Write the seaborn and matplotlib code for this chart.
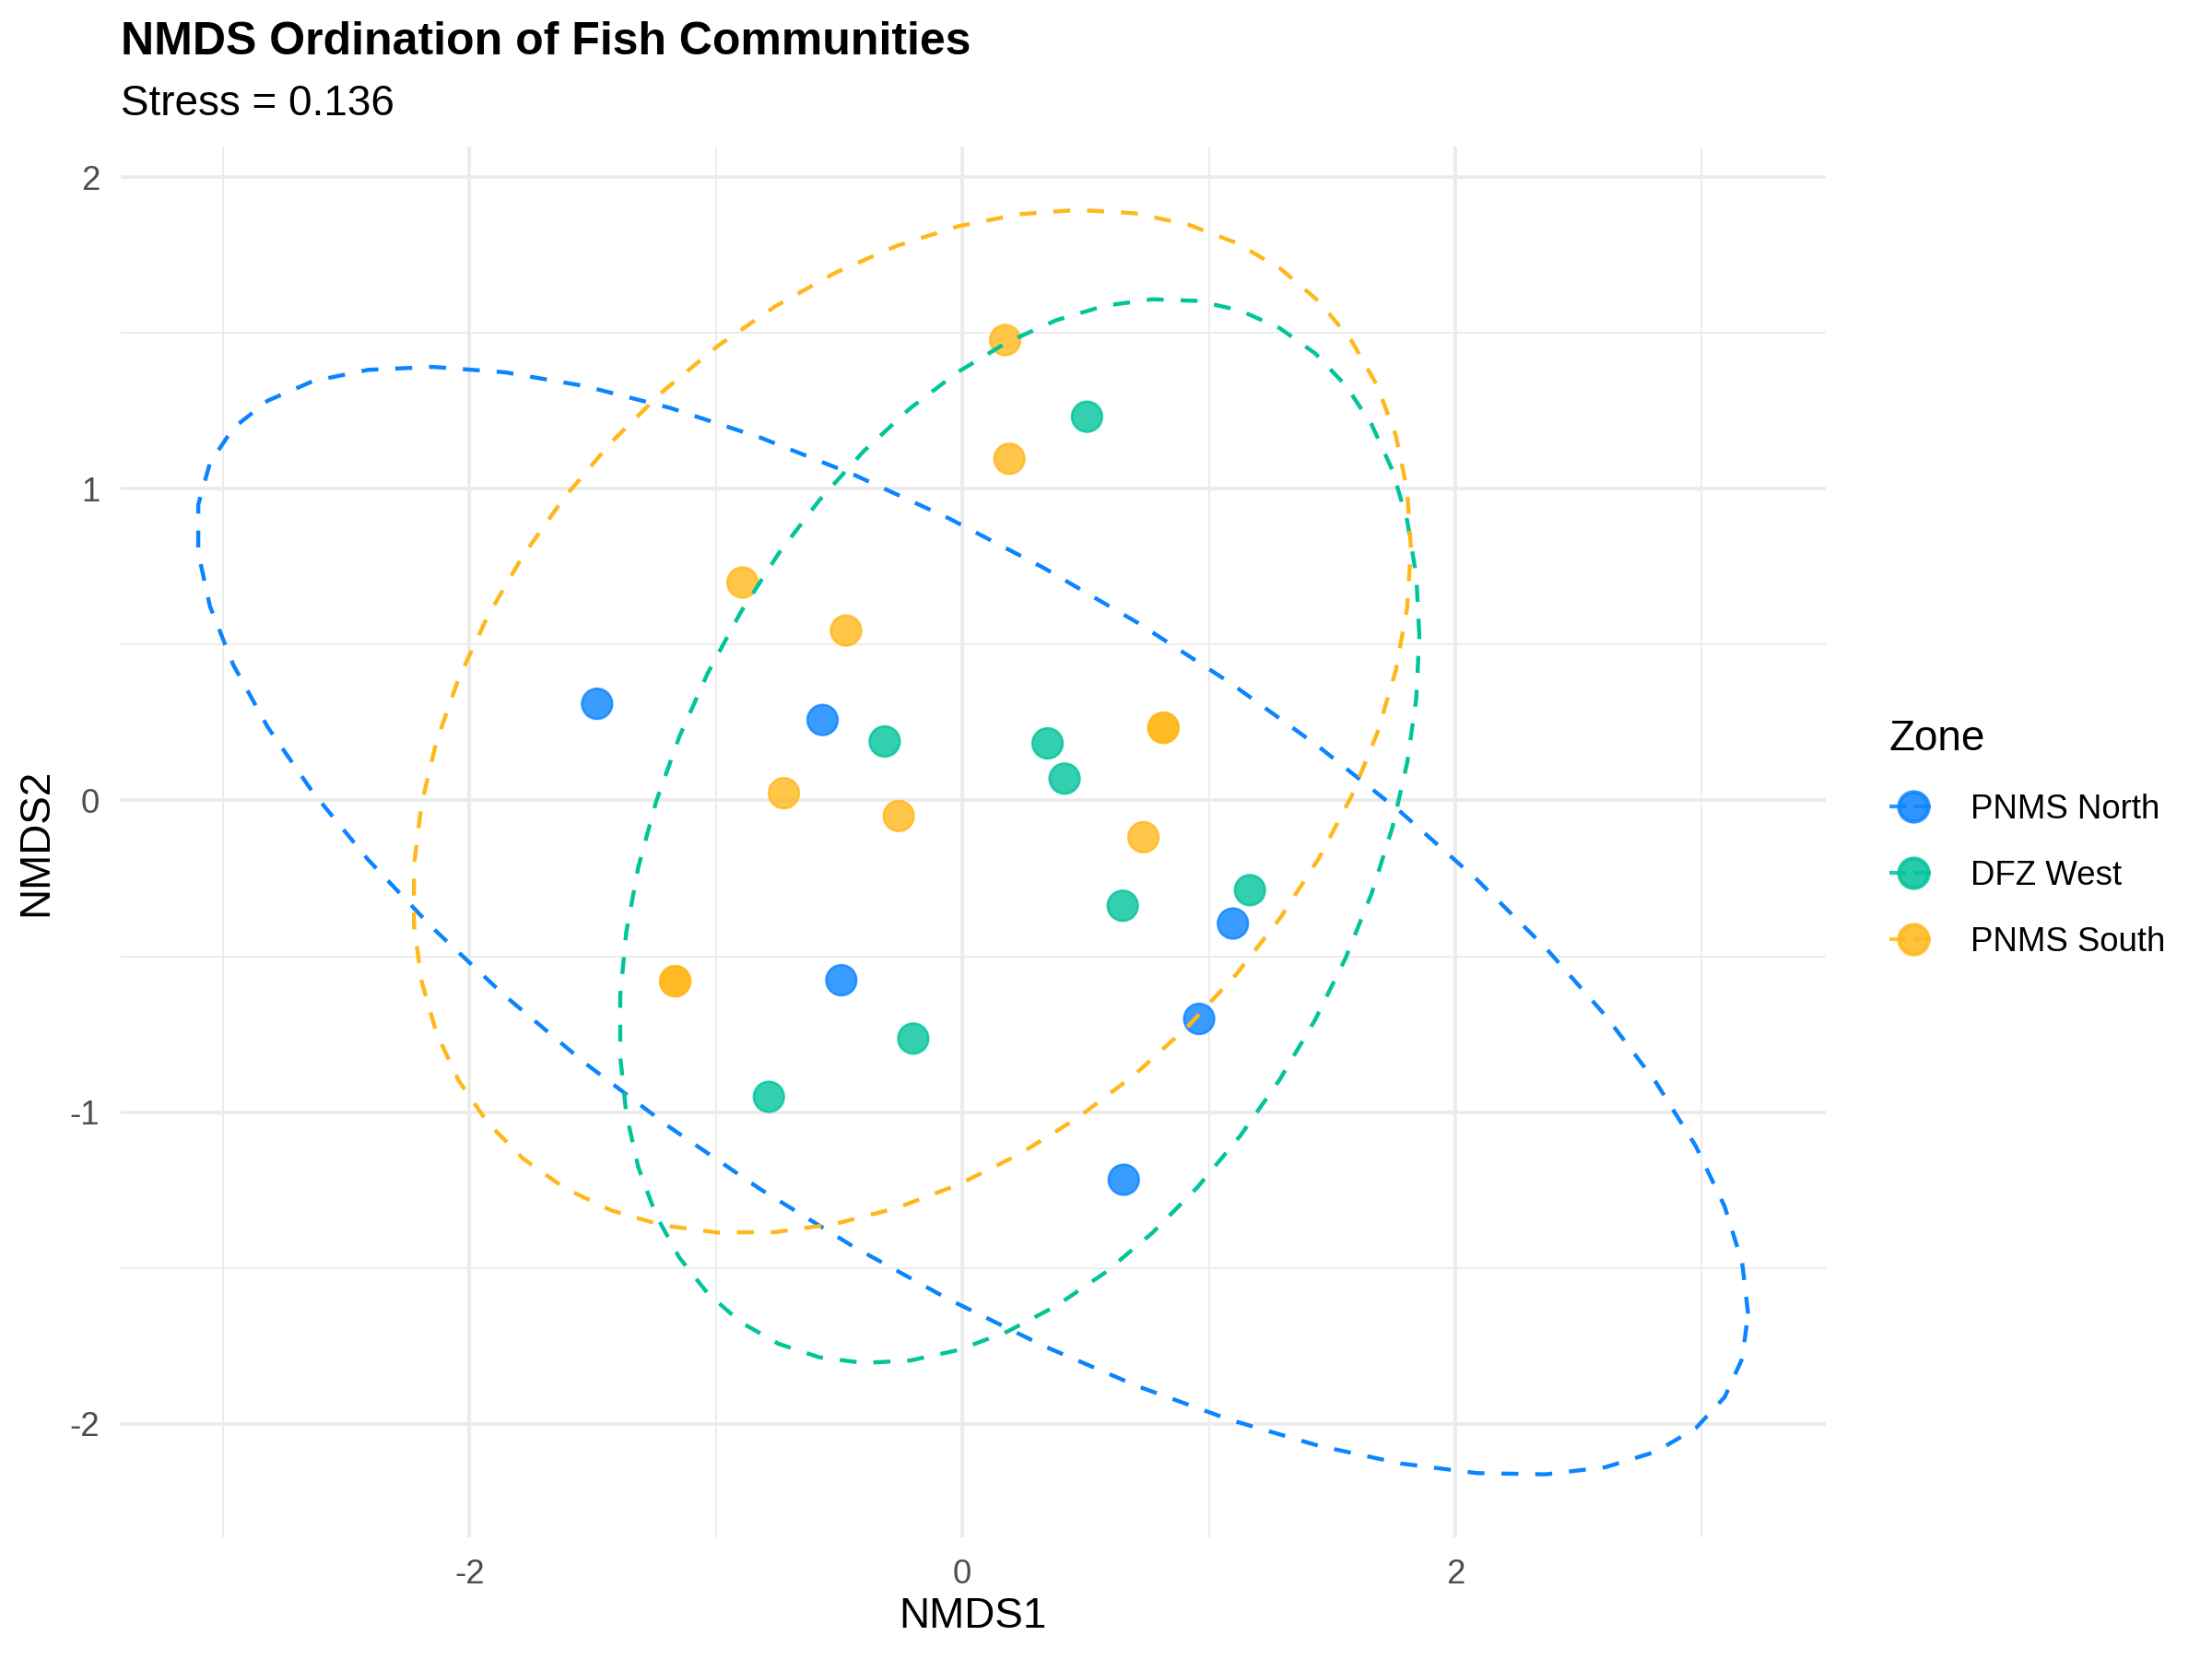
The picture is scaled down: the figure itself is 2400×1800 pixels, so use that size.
import numpy as np
import pandas as pd
import matplotlib
matplotlib.use("Agg")
import matplotlib.pyplot as plt
from matplotlib.lines import Line2D
import seaborn as sns

# ---- data ----
zones = ["PNMS North", "DFZ West", "PNMS South"]
colors = ["#0A84FF", "#00C49A", "#FFB81C"]

north_x = [-1.482, -0.567, -0.491, 1.098, 0.961, 0.655]
north_y = [0.310, 0.258, -0.577, -0.395, -0.701, -1.217]

west_x = [0.506, -0.315, 0.346, 0.415, 0.651, 1.167, -0.199, -0.785]
west_y = [1.231, 0.189, 0.183, 0.070, -0.338, -0.288, -0.764, -0.951]

south_x = [0.174, 0.191, -0.892, -0.472, -0.724, -0.258, 0.816, 0.816, 0.735, -1.165, -1.165]
south_y = [1.477, 1.096, 0.699, 0.545, 0.023, -0.050, 0.233, 0.233, -0.118, -0.580, -0.580]

stress = 0.136
x_breaks = [-2, 0, 2]
x_minor = [-3, -1, 1, 3]
y_breaks = [-2, -1, 0, 1, 2]
y_minor = [-1.5, -0.5, 0.5, 1.5]

df = pd.concat([
    pd.DataFrame({"NMDS1": north_x, "NMDS2": north_y, "Zone": zones[0]}),
    pd.DataFrame({"NMDS1": west_x, "NMDS2": west_y, "Zone": zones[1]}),
    pd.DataFrame({"NMDS1": south_x, "NMDS2": south_y, "Zone": zones[2]}),
], ignore_index=True)


# ---- ggplot2 stat_ellipse(type="t", level=0.95) ----
def cov_trob(x, nu=5, maxit=25, tol=0.01):
    n, p = x.shape
    wt = np.ones(n)
    loc = x.mean(0)
    w = np.sqrt(wt)
    X = x - loc
    for _ in range(maxit):
        w0 = w
        X = x - loc
        sw = np.sqrt(w / w.sum())
        _, d, Vt = np.linalg.svd(sw[:, None] * X, full_matrices=False)
        wX = X @ Vt.T @ np.diag(1.0 / d)
        Q = (wX ** 2).sum(1)
        w = (wt * (nu + p)) / (nu + Q)
        loc = (w[:, None] * x).sum(0) / w.sum()
        if np.all(np.abs(w - w0) < tol):
            break
    sX = np.sqrt(w)[:, None] * X
    cov = sX.T @ sX / wt.sum()
    return loc, cov


def ellipse(xv, yv, level=0.95, segments=51):
    pts = np.column_stack([xv, yv])
    center, shape = cov_trob(pts)
    R = np.linalg.cholesky(shape).T
    dfn, dfd = 2, len(pts) - 1
    fq = dfd / 2.0 * ((1 - level) ** (-2.0 / dfd) - 1)
    radius = np.sqrt(dfn * fq)
    ang = np.arange(segments + 1) * 2 * np.pi / segments
    circ = np.column_stack([np.cos(ang), np.sin(ang)])
    e = center + radius * (circ @ R)
    return e[:, 0], e[:, 1]


ells = {z: ellipse(df.loc[df.Zone == z, "NMDS1"].values,
                   df.loc[df.Zone == z, "NMDS2"].values) for z in zones}

# ---- figure ----
sns.set_theme(style="white")
plt.rcParams["font.family"] = ["Liberation Sans", "DejaVu Sans"]
plt.rcParams["axes.unicode_minus"] = False
plt.rcParams["text.color"] = "black"
plt.rcParams["axes.labelcolor"] = "black"

fig = plt.figure(figsize=(8, 6), dpi=300)
ax = fig.add_axes([0.0546, 0.0732, 0.8253 - 0.0546, 0.9116 - 0.0732])

# grid
for v in x_minor:
    ax.axvline(v, color="#EBEBEB", lw=0.45, zorder=0)
for v in y_minor:
    ax.axhline(v, color="#EBEBEB", lw=0.45, zorder=0)
for v in x_breaks:
    ax.axvline(v, color="#EBEBEB", lw=0.9, zorder=0)
for v in y_breaks:
    ax.axhline(v, color="#EBEBEB", lw=0.9, zorder=0)

pal = dict(zip(zones, colors))
sns.scatterplot(data=df, x="NMDS1", y="NMDS2", hue="Zone", hue_order=zones,
                palette=pal, s=62, alpha=0.8, edgecolor=None, linewidth=0.6,
                legend=False, ax=ax, zorder=2)
for coll in ax.collections:
    coll.set_edgecolor(coll.get_facecolor())

for z in zones:
    ex, ey = ells[z]
    ax.plot(ex, ey, color=pal[z], lw=1.05, linestyle=(0, (4.2, 4.2)), zorder=3)

# limits: data range + 5% expansion (incl. ellipses)
allx = np.concatenate([df.NMDS1.values] + [ells[z][0] for z in zones])
ally = np.concatenate([df.NMDS2.values] + [ells[z][1] for z in zones])
rx = allx.max() - allx.min()
ry = ally.max() - ally.min()
ax.set_xlim(allx.min() - 0.05 * rx, allx.max() + 0.05 * rx)
ax.set_ylim(ally.min() - 0.05 * ry, ally.max() + 0.05 * ry)

ax.set_xticks(x_breaks)
ax.set_xticklabels([str(v) for v in x_breaks])
ax.set_yticks(y_breaks)
ax.set_yticklabels([str(v) for v in y_breaks])
ax.tick_params(axis="both", length=0, labelsize=8.8, labelcolor="#4D4D4D", pad=5.5)
for s in ax.spines.values():
    s.set_visible(False)
ax.set_xlabel("NMDS1", fontsize=11, color="black", labelpad=1.5)
ax.set_ylabel("NMDS2", fontsize=11, color="black", labelpad=3.5)
ax.grid(False)

fig.text(0.0546, 1 - 59 / 1800, "NMDS Ordination of Fish Communities",
         fontsize=12.0, fontweight="bold", ha="left", va="baseline", color="black")
fig.text(0.0546, 1 - 125 / 1800, f"Stress = {stress}",
         fontsize=11, ha="left", va="baseline", color="black")

handles = [Line2D([0], [0], color=c, lw=1.0, linestyle=(0, (4.4, 2.0)),
                  marker="o", markersize=7.7, markerfacecolor=c, markeredgecolor=c,
                  alpha=0.85) for c in colors]
leg = fig.legend(handles, zones, title="Zone", loc="center left",
                 bbox_to_anchor=(2035 / 2400, 1 - 910 / 1800), frameon=False,
                 fontsize=8.8, title_fontsize=11, handlelength=1.45,
                 handletextpad=0.95, labelspacing=1.0, alignment="left",
                 borderaxespad=0)
leg.get_title().set_color("black")
for t in leg.get_texts():
    t.set_color("black")

fig.savefig("out.png", dpi=300, facecolor="white")
